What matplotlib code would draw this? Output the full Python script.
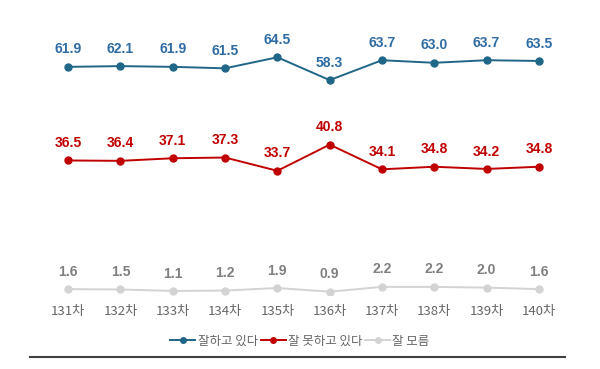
import matplotlib
matplotlib.use("Agg")
import matplotlib.pyplot as plt
from matplotlib.lines import Line2D

categories = ["131차", "132차", "133차", "134차", "135차", "136차", "137차", "138차", "139차", "140차"]
good = [61.9, 62.1, 61.9, 61.5, 64.5, 58.3, 63.7, 63.0, 63.7, 63.5]
bad = [36.5, 36.4, 37.1, 37.3, 33.7, 40.8, 34.1, 34.8, 34.2, 34.8]
unknown = [1.6, 1.5, 1.1, 1.2, 1.9, 0.9, 2.2, 2.2, 2.0, 1.6]
series_names = ["잘하고 있다", "잘 못하고 있다", "잘 모름"]

fig = plt.figure(figsize=(6.0, 3.69), dpi=100)
ax = fig.add_axes([42/600, 1-295/369, (565-42)/600, (295-37)/369])

x = list(range(len(categories)))
styles = [
    (good, "#1F6688", "#2E6BA3"),
    (bad, "#C00000", "#C00000"),
    (unknown, "#D3D3D3", "#7F7F7F"),
]
handles = []
for (vals, lc, tc), name in zip(styles, series_names):
    ln, = ax.plot(x, vals, color=lc, lw=1.4, marker="o", ms=5, label=name)
    handles.append(ln)
    for xi, v in zip(x, vals):
        ax.annotate(f"{v:.1f}", (xi, v), xytext=(0, 7.5), textcoords="offset points",
                    ha="center", va="bottom", color=tc, fontsize=10,
                    fontweight="bold", family="Liberation Sans")

ax.set_xlim(-0.5, 9.5)
ax.set_ylim(0, 70)
ax.set_xticks(x)
ax.set_xticklabels(categories, family=["Noto Sans CJK KR", "DejaVu Sans"], fontsize=9.5, color="#666666")
ax.tick_params(axis="x", length=0, pad=7)
ax.set_yticks([])
for s in ax.spines.values():
    s.set_visible(False)

leg = fig.legend(handles=handles, labels=series_names, loc="center",
                 bbox_to_anchor=(0.5, 1-341/369), ncol=3, frameon=False,
                 prop={"family": ["Noto Sans CJK KR", "DejaVu Sans"], "size": 9},
                 handlelength=2.0, handletextpad=0.2, columnspacing=0.2)
for t in leg.get_texts():
    t.set_color("#666666")
for h in leg.legend_handles:
    h.set_markersize(4)

fig.add_artist(Line2D([30/600, 565/600], [1-357/369, 1-357/369], color="#404040", lw=1.5,
                      transform=fig.transFigure))

fig.savefig("out.png", dpi=100)
